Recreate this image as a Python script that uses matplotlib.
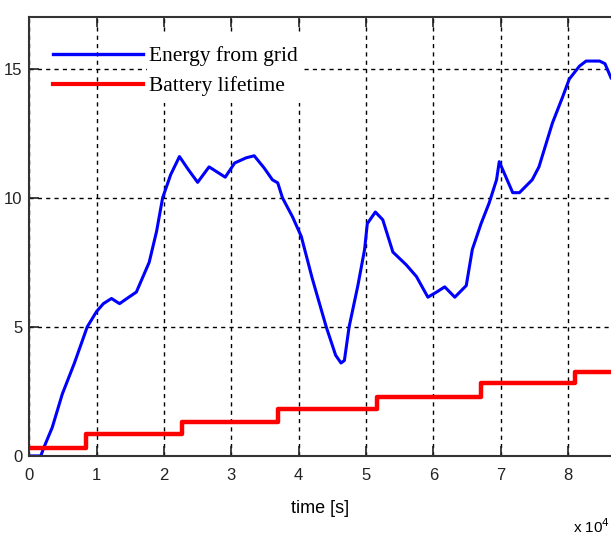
import numpy as np
import matplotlib.pyplot as plt
from matplotlib.patches import Rectangle

# time axis in units of 1e4 s (one day = 8.64e4 s)
grid_t = [0, 0.17, 0.22, 0.34, 0.49, 0.67, 0.86, 1.0, 1.1, 1.22,
          1.34, 1.45, 1.59, 1.78, 1.89, 1.98, 2.1, 2.23, 2.36, 2.5,
          2.67, 2.79, 2.91, 3.05, 3.22, 3.34, 3.49, 3.61, 3.69, 3.76,
          3.91, 4.04, 4.2, 4.41, 4.55, 4.63, 4.68, 4.75, 4.88, 4.98,
          5.02, 5.14, 5.25, 5.4, 5.6, 5.75, 5.92, 6.05, 6.17, 6.32,
          6.49, 6.58, 6.71, 6.83, 6.94, 6.98, 7.08, 7.18, 7.28, 7.47,
          7.57, 7.77, 7.92, 8.02, 8.17, 8.27, 8.47, 8.55, 8.64]
grid_energy = [0, 0, 0.35, 1.1, 2.4, 3.6, 5.0, 5.6, 5.9, 6.1,
               5.9, 6.1, 6.35, 7.5, 8.7, 10.0, 10.9, 11.6, 11.1, 10.6,
               11.2, 11.0, 10.8, 11.35, 11.55, 11.63, 11.15, 10.7, 10.58, 10.0,
               9.26, 8.5, 6.9, 5.0, 3.9, 3.6, 3.7, 5.0, 6.6, 8.0,
               9.0, 9.45, 9.15, 7.9, 7.4, 6.95, 6.15, 6.35, 6.55, 6.15,
               6.6, 8.0, 9.0, 9.8, 10.7, 11.4, 10.8, 10.2, 10.2, 10.7,
               11.2, 12.9, 13.9, 14.6, 15.1, 15.3, 15.3, 15.2, 14.65]

batt_t = [0, 0.84, 2.27, 3.7, 5.17, 6.71, 8.1, 8.64]
batt_life = [0.32, 0.85, 1.31, 1.82, 2.30, 2.82, 3.26, 3.26]

xticks = [0, 1, 2, 3, 4, 5, 6, 7, 8]
yticks = [0, 5, 10, 15]

tickfont = 'Liberation Sans'

fig = plt.figure(figsize=(6.11, 5.37), dpi=100)
ax = fig.add_axes([0.048, 0.151, 0.952, 0.817])

ax.plot(grid_t, grid_energy, color='#0000ff', lw=2.2, label='Energy from grid')
ax.step(batt_t, batt_life, where='post', color='#ff0000', lw=3.2,
        label='Battery lifetime')

ax.set_xlim(0, 8.64)
ax.set_ylim(0, 17)
ax.set_xticks(xticks)
ax.set_yticks(yticks)
ax.set_xticklabels([str(v) for v in xticks], family=tickfont, fontsize=12)
ax.set_yticklabels([str(v) for v in yticks], family=tickfont, fontsize=12)
ax.tick_params(direction='in', length=7, width=1.2, top=True, right=False,
               colors='#222222')
ax.tick_params(axis='x', pad=9)
ax.tick_params(axis='y', pad=5)

ax.grid(True, color='black', linestyle=(0, (3, 3)), lw=1.0)
for side in ['left', 'top', 'bottom']:
    ax.spines[side].set_color('#333333')
    ax.spines[side].set_linewidth(1.5)
ax.spines['right'].set_visible(False)

ax.set_xlabel('time [s]', fontsize=13, family='Liberation Sans', labelpad=12)
fig.text(0.999, 0.02, r'x 10$^4$', fontsize=11, family=tickfont,
         ha='right', va='center')

# white panel behind the legend text
ax.add_patch(Rectangle((0.203, 0.805), 0.27, 0.16, transform=ax.transAxes,
                       facecolor='white', edgecolor='none', zorder=1.8))

leg = ax.legend(loc='upper left', bbox_to_anchor=(0.007, 0.978), frameon=False,
                prop={'family': 'Liberation Serif', 'size': 15.5},
                handlelength=4.2, handletextpad=0.25, labelspacing=0.45,
                borderpad=0.4)
leg.set_zorder(3)
leg.get_lines()[0].set_linewidth(2.4)
leg.get_lines()[1].set_linewidth(3.0)

fig.savefig('out.png', dpi=100)
